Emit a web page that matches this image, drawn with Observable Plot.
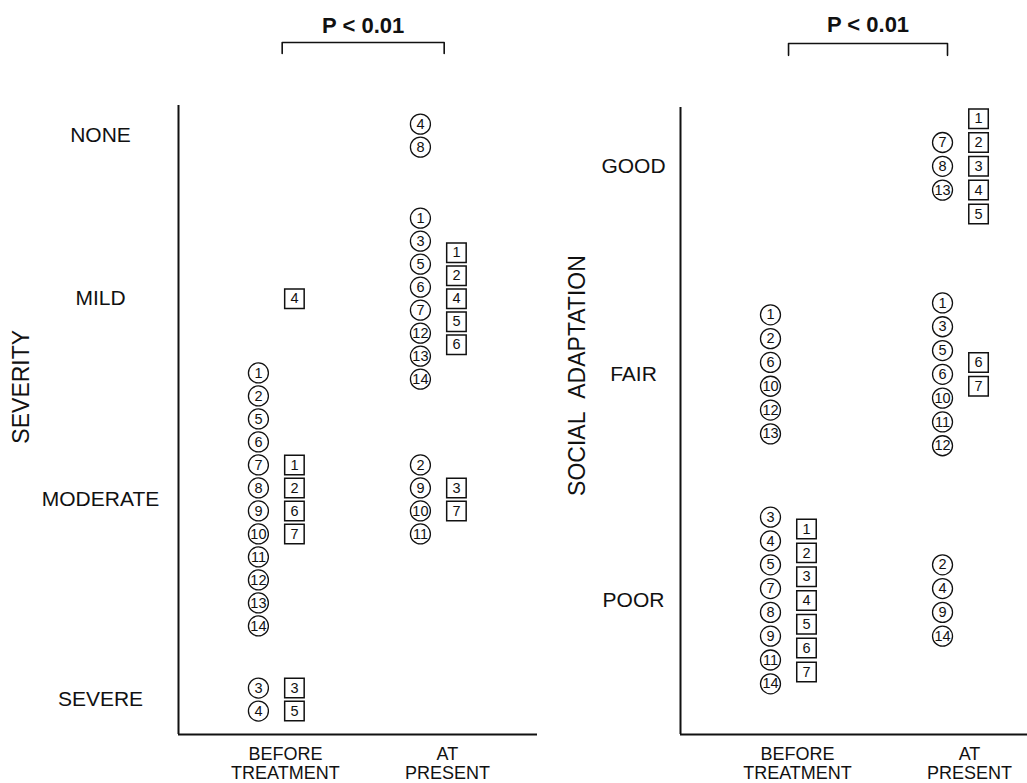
<!DOCTYPE html>
<html>
<head>
<meta charset="utf-8">
<script src="https://cdn.jsdelivr.net/npm/d3@7"></script>
<script src="https://cdn.jsdelivr.net/npm/@observablehq/plot@0.6"></script>
<style>
  body { margin: 0; background: #fff; }
  #chart { position: relative; width: 1027px; height: 783px; overflow: hidden; }
  #chart svg { position: absolute; top: 0; font-family: "Liberation Sans", Arial, Helvetica, sans-serif; }
</style>
</head>
<body>
<div id="chart"></div>
<script>
// ---- categories ----
const periods = ["BEFORE\nTREATMENT", "AT\nPRESENT"];
const severityLevels = ["NONE", "MILD", "MODERATE", "SEVERE"];
const adaptationLevels = ["GOOD", "FAIR", "POOR"];
const significance = "P < 0.01";

// ---- severity: patient numbers in each group (circles and squares are two patient series) ----
const severityBeforeCircles = { MODERATE: [1, 2, 5, 6, 7, 8, 9, 10, 11, 12, 13, 14], SEVERE: [3, 4] };
const severityBeforeSquares = { MILD: [4], MODERATE: [1, 2, 6, 7], SEVERE: [3, 5] };
const severityPresentCircles = { NONE: [4, 8], MILD: [1, 3, 5, 6, 7, 12, 13, 14], MODERATE: [2, 9, 10, 11] };
const severityPresentSquares = { MILD: [1, 2, 4, 5, 6], MODERATE: [3, 7] };

// ---- social adaptation ----
const adaptationBeforeCircles = { FAIR: [1, 2, 6, 10, 12, 13], POOR: [3, 4, 5, 7, 8, 9, 11, 14] };
const adaptationBeforeSquares = { POOR: [1, 2, 3, 4, 5, 6, 7] };
const adaptationPresentCircles = { GOOD: [7, 8, 13], FAIR: [1, 3, 5, 6, 10, 11, 12], POOR: [2, 4, 9, 14] };
const adaptationPresentSquares = { GOOD: [1, 2, 3, 4, 5], FAIR: [6, 7] };

// Layout: the y scale counts in marker rows; each level sits at a row position.
const severityLayout = {
  left: 0, width: 540, marginLeft: 178, marginRight: 3, marginTop: 105, marginBottom: 49,
  xDomain: [-0.66, 1.556], yDomain: [-1.52, 25.83],
  levelRow: { SEVERE: 0, MODERATE: 8.7, MILD: 17.43, NONE: 24.52 },
  labelPadding: 78, title: "SEVERITY", titleDx: -157, titleRow: 13.6,
  bracket: [-0.02, 0.98], bracketRow: 28.57, bracketTickRow: 28.09, sigRow: 29.3
};
const adaptationLayout = {
  left: 540, width: 487, marginLeft: 140, marginRight: 0, marginTop: 107, marginBottom: 49,
  xDomain: [-0.68, 1.337], yDomain: [-5.63, 20.71],
  levelRow: { POOR: 0, FAIR: 9.5, GOOD: 18.24 },
  labelPadding: 47, title: "SOCIAL\u00A0\u00A0ADAPTATION", titleDx: -103, titleRow: 9.45,
  bracket: [-0.052, 0.872], bracketRow: 23.4, bracketTickRow: 22.9, sigRow: 24.16
};

// Turn {level: [ids]} into rows stacked around the level position.
function stack(groups, period, layout) {
  const out = [];
  for (const [level, ids] of Object.entries(groups)) {
    const n = ids.length;
    ids.forEach((id, k) => out.push({
      period,
      level,
      id,
      row: layout.levelRow[level] + ((n - 1) / 2 - k)
    }));
  }
  return out;
}

function panel(levels, circles, squares, layout) {
  const circleData = [...stack(circles[0], 0, layout), ...stack(circles[1], 1, layout)];
  const squareData = [...stack(squares[0], 0, layout), ...stack(squares[1], 1, layout)];
  const ink = "#111";
  const circleDx = -27, squareDx = 9;
  const oneDigit = d => d.id < 10;
  const twoDigit = d => d.id >= 10;
  const [b0, b1] = layout.bracket;
  const bracketPath = [
    { x: b0, y: layout.bracketTickRow },
    { x: b0, y: layout.bracketRow },
    { x: b1, y: layout.bracketRow },
    { x: b1, y: layout.bracketTickRow }
  ];

  const svg = Plot.plot({
    width: layout.width,
    height: 783,
    marginLeft: layout.marginLeft,
    marginRight: layout.marginRight,
    marginTop: layout.marginTop,
    marginBottom: layout.marginBottom,
    style: { fontFamily: "\"Liberation Sans\", Arial, Helvetica, sans-serif", background: "#fff", color: ink },
    x: { domain: layout.xDomain, axis: null },
    y: { domain: layout.yDomain, axis: null },
    marks: [
      // axis lines
      Plot.ruleX([layout.xDomain[0]], { stroke: ink, strokeWidth: 2 }),
      Plot.ruleY([layout.yDomain[0]], { stroke: ink, strokeWidth: 2 }),
      // level labels
      Plot.axisY({
        ticks: levels.map(l => layout.levelRow[l]),
        tickFormat: r => levels.find(l => layout.levelRow[l] === r),
        tickSize: 0, tickPadding: layout.labelPadding, textAnchor: "middle",
        fontSize: 21, label: null, fill: ink
      }),
      // period labels
      Plot.axisX({
        ticks: [0, 1],
        tickFormat: i => periods[i],
        tickSize: 0, tickPadding: 11, fontSize: 18, lineHeight: 1.1,
        label: null, fill: ink
      }),
      // axis title
      Plot.text([layout.title], {
        frameAnchor: "left", y: () => layout.titleRow, dx: layout.titleDx,
        rotate: -90, fontSize: 23, fill: ink, textAnchor: "middle"
      }),
      // significance bracket
      Plot.line(bracketPath, { x: "x", y: "y", stroke: ink, strokeWidth: 1.6 }),
      Plot.text([significance], {
        x: () => (b0 + b1) / 2, y: () => layout.sigRow,
        fontSize: 22, fontWeight: "bold", fill: ink
      }),
      // circle patients
      Plot.dot(circleData, { x: "period", y: "row", r: 10, dx: circleDx, stroke: ink, strokeWidth: 1.3, fill: "#fff" }),
      Plot.text(circleData.filter(oneDigit), { x: "period", y: "row", text: "id", dx: circleDx, fontSize: 14.5, fill: ink }),
      Plot.text(circleData.filter(twoDigit), { x: "period", y: "row", text: "id", dx: circleDx, fontSize: 14.5, fill: ink, ariaLabel: "two-digit" }),
      // square patients
      Plot.dot(squareData, { x: "period", y: "row", r: 11, symbol: "square", dx: squareDx, stroke: ink, strokeWidth: 1.5, fill: "#fff" }),
      Plot.text(squareData, { x: "period", y: "row", text: "id", dx: squareDx, fontSize: 14.5, fill: ink })
    ]
  });
  // squeeze two-digit numbers into their circles
  d3.select(svg).selectAll('g[aria-label="two-digit"] text')
    .attr("textLength", 16)
    .attr("lengthAdjust", "spacingAndGlyphs");
  svg.style.left = layout.left + "px";
  return svg;
}

const chart = document.getElementById("chart");
chart.append(panel(
  severityLevels,
  [severityBeforeCircles, severityPresentCircles],
  [severityBeforeSquares, severityPresentSquares],
  severityLayout
));
chart.append(panel(
  adaptationLevels,
  [adaptationBeforeCircles, adaptationPresentCircles],
  [adaptationBeforeSquares, adaptationPresentSquares],
  adaptationLayout
));
</script>
</body>
</html>
